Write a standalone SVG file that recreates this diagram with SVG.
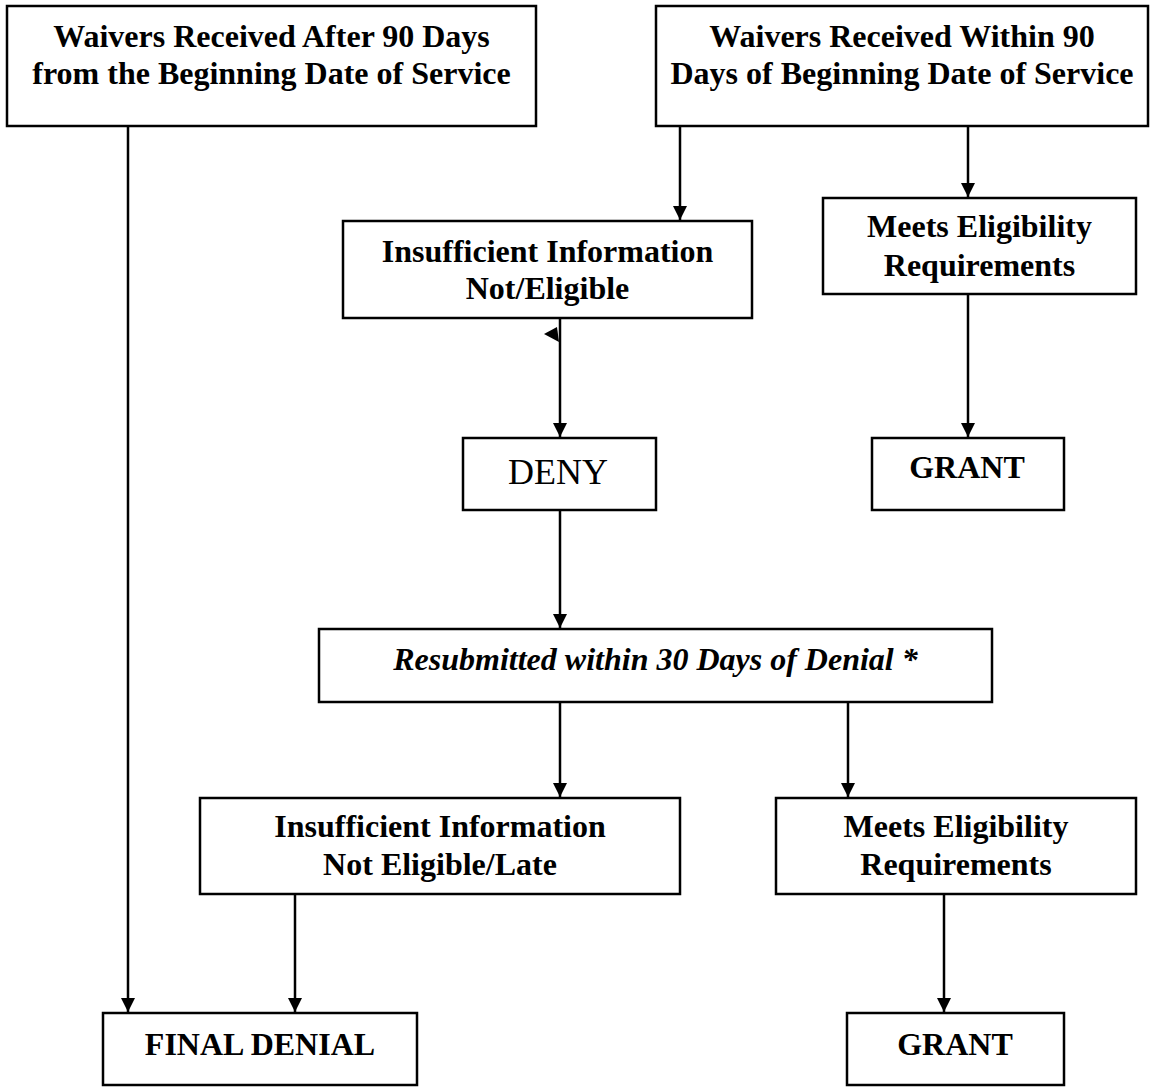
<svg xmlns="http://www.w3.org/2000/svg" width="1151" height="1087" viewBox="0 0 1151 1087">
<style>
.box{fill:#fff;stroke:#000;stroke-width:2.5}
.t{font-family:"Liberation Serif","Times New Roman",serif;font-size:32px;font-weight:bold;text-anchor:middle;fill:#000}
.r{font-weight:normal;font-size:36px}
.i{font-style:italic}
.c{stroke:#000;stroke-width:2.5;fill:none;marker-end:url(#ah)}
</style>
<defs>
<marker id="ah" markerUnits="userSpaceOnUse" markerWidth="16" markerHeight="16" refX="14" refY="7" orient="auto">
<path d="M0,0 L14,7 L0,14 z" fill="#000"/>
</marker>
</defs>
<rect width="1151" height="1087" fill="#fff"/>
<g id="connectors">
<line class="c" x1="128" y1="126" x2="128" y2="1012"/>
<line class="c" x1="680" y1="126" x2="680" y2="220"/>
<line class="c" x1="968" y1="126" x2="968" y2="197"/>
<line class="c" x1="968" y1="294" x2="968" y2="437"/>
<line class="c" x1="560" y1="318" x2="560" y2="437"/>
<polygon points="544,334 557,327 559,342" fill="#000"/>
<line class="c" x1="560" y1="510" x2="560" y2="628"/>
<line class="c" x1="560" y1="702" x2="560" y2="797"/>
<line class="c" x1="848" y1="702" x2="848" y2="797"/>
<line class="c" x1="295" y1="894" x2="295" y2="1012"/>
<line class="c" x1="944" y1="894" x2="944" y2="1012"/>
</g>
<g id="n_after90">
<rect class="box" x="7" y="6" width="529" height="120"/>
<text class="t" x="271.5" y="47">Waivers Received After 90 Days</text>
<text class="t" x="271.5" y="84">from the Beginning Date of Service</text>
</g>
<g id="n_within90">
<rect class="box" x="656" y="6" width="492" height="120"/>
<text class="t" x="902" y="47">Waivers Received Within 90</text>
<text class="t" x="902" y="84">Days of Beginning Date of Service</text>
</g>
<g id="n_insuff1">
<rect class="box" x="343" y="221" width="409" height="97"/>
<text class="t" x="547.5" y="262">Insufficient Information</text>
<text class="t" x="547.5" y="299">Not/Eligible</text>
</g>
<g id="n_meets1">
<rect class="box" x="823" y="198" width="313" height="96"/>
<text class="t" x="979.5" y="237">Meets Eligibility</text>
<text class="t" x="979.5" y="276">Requirements</text>
</g>
<g id="n_deny">
<rect class="box" x="463" y="438" width="193" height="72"/>
<text class="t r" x="558" y="484">DENY</text>
</g>
<g id="n_grant1">
<rect class="box" x="872" y="438" width="192" height="72"/>
<text class="t" x="967" y="478">GRANT</text>
</g>
<g id="n_resub">
<rect class="box" x="319" y="629" width="673" height="73"/>
<text class="t i" x="655.5" y="670">Resubmitted within 30 Days of Denial *</text>
</g>
<g id="n_insuff2">
<rect class="box" x="200" y="798" width="480" height="96"/>
<text class="t" x="440" y="837">Insufficient Information</text>
<text class="t" x="440" y="875">Not Eligible/Late</text>
</g>
<g id="n_meets2">
<rect class="box" x="776" y="798" width="360" height="96"/>
<text class="t" x="956" y="837">Meets Eligibility</text>
<text class="t" x="956" y="875">Requirements</text>
</g>
<g id="n_final">
<rect class="box" x="103" y="1013" width="314" height="72"/>
<text class="t" x="260" y="1055">FINAL DENIAL</text>
</g>
<g id="n_grant2">
<rect class="box" x="847" y="1013" width="217" height="72"/>
<text class="t" x="955" y="1055">GRANT</text>
</g>
</svg>
